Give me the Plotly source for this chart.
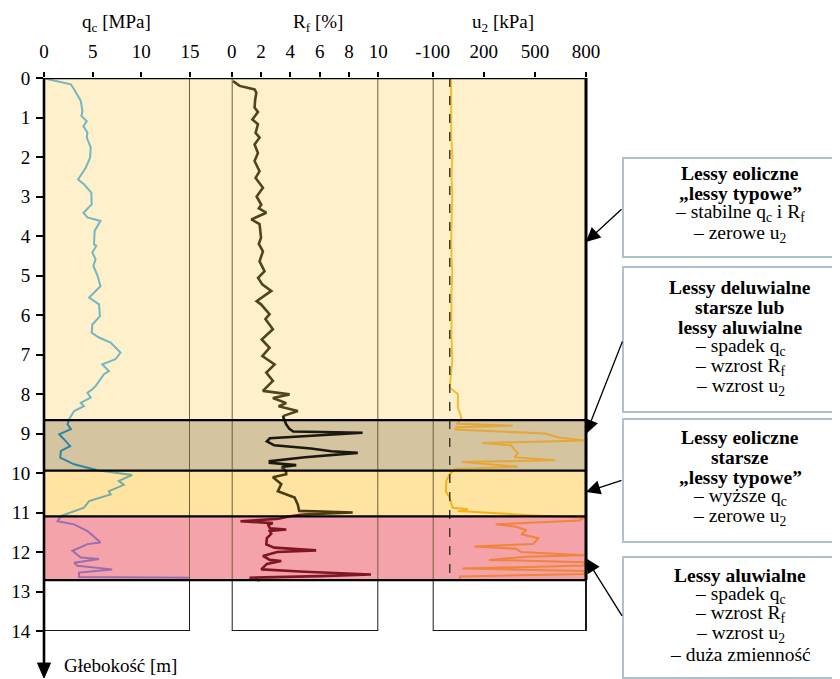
import plotly.graph_objects as go

# ---------------- data ----------------
layer_top = [0.0, 8.66, 9.94, 11.10]
layer_bottom = [8.66, 9.94, 11.10, 12.71]
layer_fill = ["#FEF0CA", "#D4C4A0", "#FEE3A1", "#F5A3AA"]

depth_qc = [0.02, 0.10, 0.16, 0.29, 0.58, 0.84, 0.96, 1.09, 1.22, 1.38, 1.51, 1.76, 2.02, 2.27, 2.57,
            2.69, 2.90, 3.20, 3.28, 3.41, 3.53, 3.62, 3.87, 4.21, 4.25, 4.42, 4.59, 4.76, 5.00, 5.27,
            5.56, 5.73, 6.03, 6.24, 6.45, 6.57, 6.70, 6.95, 7.12, 7.25, 7.42, 7.50, 7.80, 7.88, 7.97,
            8.09, 8.22, 8.31, 8.43, 8.64, 8.77, 8.89, 9.02, 9.15, 9.32, 9.44, 9.61, 9.78, 9.93, 10.05,
            10.20, 10.30, 10.46, 10.54, 10.71, 10.88, 11.09, 11.22, 11.30, 11.47, 11.56, 11.76, 11.80,
            11.97, 12.14, 12.18, 12.27, 12.35, 12.44, 12.52, 12.63, 12.65]
qc = [0.2, 1.5, 2.76, 3.1, 3.78, 3.95, 3.84, 4.39, 4.05, 4.46, 4.4, 4.8, 4.73, 4.29, 3.5,
      4.1, 4.86, 4.9, 4.6, 4.05, 4.46, 5.8, 5.2, 5.14, 5.37, 4.97, 5.3, 5.07, 5.5, 5.8,
      4.63, 5.65, 5.75, 4.97, 4.9, 5.65, 6.84, 7.86, 7.35, 5.99, 6.67, 6.16, 5.3, 4.97, 4.46,
      4.8, 3.78, 4.1, 3.1, 2.58, 2.42, 2.76, 1.56, 2.07, 2.69, 1.73, 1.67, 3.1, 5.48, 9.05,
      7.69, 8.2, 6.67, 6.84, 4.63, 4.1, 1.73, 1.4, 3.1, 4.46, 4.9, 5.8, 4.46,
      2.92, 3.78, 5.65, 3.1, 3.44, 7.0, 3.6, 3.6, 15.0]

depth_rf = [0.08, 0.20, 0.29, 0.37, 0.55, 0.75, 0.86, 1.05, 1.17, 1.39, 1.51, 1.68, 1.90, 2.10, 2.36,
            2.53, 2.78, 3.00, 3.21, 3.30, 3.41, 3.58, 3.70, 4.04, 4.20, 4.39, 4.64, 4.89, 5.06, 5.23,
            5.39, 5.65, 5.73, 5.98, 6.10, 6.36, 6.50, 6.62, 6.83, 7.04, 7.25, 7.46, 7.67, 7.92, 8.01,
            8.10, 8.23, 8.31, 8.43, 8.56, 8.77, 8.89, 8.95, 8.98, 9.05, 9.12, 9.20, 9.30, 9.38, 9.45,
            9.49, 9.54, 9.60, 9.70, 9.74, 9.80, 9.85, 9.95, 10.03, 10.11, 10.28, 10.46, 10.62, 10.80,
            10.96, 11.00, 11.05, 11.10, 11.16, 11.22, 11.27, 11.32, 11.40, 11.43, 11.47, 11.54, 11.65,
            11.81, 11.89, 11.96, 12.00, 12.10, 12.20, 12.23, 12.30, 12.44, 12.50, 12.57, 12.61, 12.65,
            12.72]
rf = [0.09, 0.54, 1.56, 1.68, 1.6, 1.56, 1.79, 1.41, 1.79, 1.63, 1.9, 1.56, 1.79, 1.56, 1.9,
      1.63, 2.13, 1.7, 2.02, 1.85, 2.36, 1.34, 1.9, 2.0, 1.85, 2.13, 1.9, 2.24, 1.8, 2.1,
      2.7, 1.7, 2.0, 2.58, 2.3, 2.81, 2.4, 2.05, 2.58, 2.09, 2.93, 2.36, 2.81, 2.13, 3.95,
      2.81, 3.72, 3.2, 4.51, 3.49, 3.72, 3.95, 4.2, 8.93, 5.5, 2.6, 2.4, 2.9, 5.4, 6.8,
      8.6, 7.0, 5.0, 2.6, 2.6, 4.4, 3.4, 3.7, 3.72, 2.81, 3.38, 3.15, 4.29, 4.51,
      4.6, 8.25, 4.85, 3.9, 3.2, 0.6, 2.8, 2.5, 2.6, 3.72, 2.6, 2.7, 2.4,
      2.36, 2.9, 5.76, 3.1, 2.13, 2.6, 3.38, 2.4, 2.02, 5.0, 9.5, 6.0, 1.22,
      1.9]

depth_u2 = [0.0, 0.5, 1.0, 1.5, 1.99, 2.5, 2.92, 3.5, 4.0, 4.5, 4.94, 5.5, 6.0, 6.5, 7.14,
            7.5, 7.84, 8.00, 8.34, 8.60, 8.66, 8.75, 8.80, 8.84, 8.90, 9.00, 9.10, 9.18, 9.24, 9.30,
            9.40, 9.50, 9.60, 9.68, 9.72, 9.84, 9.90, 10.03, 10.20, 10.46, 10.63, 10.88, 10.92, 10.96,
            11.09, 11.13, 11.20, 11.30, 11.36, 11.45, 11.55, 11.65, 11.80, 11.86, 11.92, 12.00, 12.08,
            12.12, 12.20, 12.26, 12.34, 12.42, 12.48, 12.56, 12.62, 12.70]
u2 = [8, 9, 10, 9, 15, 10, 15, 10, 9, 10, 15, 10, 9, 10, 15,
      9, 0, 48, 48, 68, 65, 40, 370, 40, 30, 560, 640, 790, 190, 360,
      380, 400, 380, 620, 70, 400, 30, 0, -20, -23, 0, 17, 106, 48,
      545, 790, 760, 270, 390, 450, 420, 520, 490, 145, 390, 420, 790,
      450, 230, 790, 790, 75, 790, 790, 60, 60]

qc_colors = ["#74B6C3", "#2F86A2", "#72AF9F", "#9B6CB0"]
rf_colors = ["#4E4421", "#1B1811", "#4A3B12", "#7F1623"]
u2_colors = ["#F5BD2C", "#E6A73A", "#F3B11C", "#EF853A"]

qc_ticks = [0, 5, 10, 15]
rf_ticks = [0, 2, 4, 6, 8, 10]
u2_ticks = [-100, 200, 500, 800]
u2_tick_labels = ["-100", "200", "500", "800"]
depth_ticks = list(range(0, 15))
u_hydro = 0

notes = [
    [("Lessy eoliczne", True), ("„lessy typowe”", True), ("– stabilne q<sub>c</sub> i R<sub>f</sub>", False),
     ("– zerowe u<sub>2</sub>", False)],
    [("Lessy deluwialne", True), ("starsze lub", True), ("lessy aluwialne", True),
     ("– spadek q<sub>c</sub>", False), ("– wzrost R<sub>f</sub>", False), ("– wzrost u<sub>2</sub>", False)],
    [("Lessy eoliczne", True), ("starsze", True), ("„lessy typowe”", True),
     ("– wyższe q<sub>c</sub>", False), ("– zerowe u<sub>2</sub>", False)],
    [("Lessy aluwialne", True), ("– spadek q<sub>c</sub>", False), ("– wzrost R<sub>f</sub>", False),
     ("– wzrost u<sub>2</sub>", False), ("– duża zmienność", False)],
]
note_arrow_depth = [4.15, 9.01, 10.48, 12.16]

# ---------------- layout helpers ----------------
# page body has an 8px margin: the figure is shifted by OFF, so reference
# pixel coordinates are converted accordingly
FONT = "Liberation Serif, Times New Roman, serif"
OFF = 8
W, H = 840 - OFF, 679 - OFF
PW, PH = 542, 553
L, T = 44 - OFF, 78 - OFF
R, B = W - L - PW, H - T - PH


def px(x):
    return (x - OFF - L) / PW


def py(y):
    return (H - B - (y - OFF)) / PH


fig = go.Figure()


def add_series(depths, vals, colors, axis, width):
    n = len(layer_top)
    for k in range(n):
        top = layer_top[k]
        bot = layer_bottom[k] if k < n - 1 else 1e9
        idx = [i for i, d in enumerate(depths) if top <= d < bot]
        if not idx:
            continue
        start = max(idx[0] - 1, 0)
        end = idx[-1] + 1
        fig.add_trace(go.Scatter(x=vals[start:end], y=depths[start:end], mode="lines",
                                 line=dict(color=colors[k], width=width),
                                 xaxis=axis, yaxis="y", showlegend=False, hoverinfo="skip"))


add_series(depth_qc, qc, qc_colors, "x", 2)
add_series(depth_rf, rf, rf_colors, "x2", 2.6)
add_series(depth_u2, u2, u2_colors, "x3", 2)

shapes = []
# layer bands
for t, b, c in zip(layer_top, layer_bottom, layer_fill):
    shapes.append(dict(type="rect", xref="paper", yref="y", x0=0, x1=1, y0=t, y1=b,
                       fillcolor=c, line=dict(width=0), layer="below"))
bottom = layer_bottom[-1]
# panel vertical lines
for xr, xv in [("x", 15), ("x2", 0), ("x2", 10), ("x3", -100)]:
    shapes.append(dict(type="line", xref=xr, yref="y", x0=xv, x1=xv, y0=0, y1=bottom,
                       line=dict(color="#6E5F38", width=2), layer="above"))
    shapes.append(dict(type="line", xref=xr, yref="y", x0=xv, x1=xv, y0=bottom, y1=14,
                       line=dict(color="#1A1A1A", width=2), layer="above"))
# hydrostatic dashed line
shapes.append(dict(type="line", xref="x3", yref="y", x0=u_hydro, x1=u_hydro, y0=0, y1=bottom,
                   line=dict(color="#3A3A2E", width=1.5, dash="dash"), layer="above"))
# layer borders
for b in layer_top[1:] + [bottom]:
    shapes.append(dict(type="line", xref="paper", yref="y", x0=0, x1=1, y0=b, y1=b,
                       line=dict(color="black", width=2.2), layer="above"))
shapes.append(dict(type="line", xref="paper", yref="y", x0=0, x1=1, y0=0, y1=0,
                   line=dict(color="black", width=2.6), layer="above"))
shapes.append(dict(type="line", xref="paper", yref="y", x0=1, x1=1, y0=0, y1=bottom,
                   line=dict(color="black", width=3), layer="above"))
shapes.append(dict(type="line", xref="paper", yref="y", x0=1, x1=1, y0=bottom, y1=14,
                   line=dict(color="#1A1A1A", width=2), layer="above"))
# panel bottoms
for xr, a, b in [("x", 0, 15), ("x2", 0, 10), ("x3", -100, 800)]:
    shapes.append(dict(type="line", xref=xr, yref="y", x0=a, x1=b, y0=14, y1=14,
                       line=dict(color="#1A1A1A", width=2), layer="above"))
# depth axis with arrow
shapes.append(dict(type="line", xref="paper", yref="paper", x0=0, x1=0, y0=1, y1=py(666),
                   line=dict(color="black", width=2.6), layer="above"))
shapes.append(dict(type="path", xref="paper", yref="paper",
                   path=f"M {px(37.5)},{py(663)} L {px(50.5)},{py(663)} L {px(44)},{py(678)} Z",
                   fillcolor="black", line=dict(color="black", width=1), layer="above"))

# note boxes
box_y = [(158, 257), (267, 412), (419, 542), (557, 678)]
for y0, y1 in box_y:
    shapes.append(dict(type="rect", xref="paper", yref="paper", x0=px(623), x1=px(838),
                       y0=py(y1), y1=py(y0), line=dict(color="#AFC2CB", width=2),
                       fillcolor="white", layer="above"))

annotations = []
# axis titles
for txt, cx in [("q<sub>c</sub> [MPa]", 116), ("R<sub>f</sub> [%]", 318), ("u<sub>2</sub> [kPa]", 503)]:
    annotations.append(dict(text=txt, xref="paper", yref="paper", x=px(cx), y=py(23),
                            xanchor="center", yanchor="middle", showarrow=False,
                            font=dict(family=FONT, size=19, color="black")))
annotations.append(dict(text="Głebokość [m]", xref="paper", yref="paper", x=px(62), y=py(665),
                        xanchor="left", yanchor="middle", showarrow=False,
                        font=dict(family=FONT, size=19, color="black")))
# note texts
line_y = [[173, 193, 213, 234], [287, 307, 327, 347, 367, 387],
          [437, 457, 477, 497, 517], [575, 595, 614, 634, 654]]
for lines, ys in zip(notes, line_y):
    for (txt, bold), yy in zip(lines, ys):
        annotations.append(dict(text=f"<b>{txt}</b>" if bold else txt, xref="paper", yref="paper",
                                x=px(740), y=py(yy), xanchor="center", yanchor="middle",
                                showarrow=False, font=dict(family=FONT, size=19.5, color="black")))
# arrows
tails = [208, 340, 480, 617]
tip_px = [242, 434, 492, 558]
for d, ty, tp in zip(note_arrow_depth, tails, tip_px):
    annotations.append(dict(text="", xref="paper", yref="y", x=1, y=d, ax=37, ay=ty - tp,
                            showarrow=True, arrowhead=2, arrowsize=2.2, arrowwidth=1.3,
                            arrowcolor="black", standoff=0))

axis_common = dict(side="top", anchor="y", showgrid=False, zeroline=False, showline=False,
                   automargin=False,
                   ticks="outside", ticklen=5, tickwidth=1.6, tickcolor="black", ticklabelstandoff=6,
                   tickfont=dict(family=FONT, size=19, color="black"), fixedrange=True)

fig.update_layout(
    width=W, height=H,
    margin=dict(l=L, r=R, t=T, b=B, autoexpand=False),
    paper_bgcolor="white", plot_bgcolor="white",
    font=dict(family=FONT, size=19, color="black"),
    showlegend=False,
    xaxis=dict(domain=[0, px(190)], range=[0, 15], tickvals=qc_ticks, **axis_common),
    xaxis2=dict(domain=[px(231.7), px(378.3)], range=[0, 10], tickvals=rf_ticks, **axis_common),
    xaxis3=dict(domain=[px(432.7), 1], range=[-100, 800], tickvals=u2_ticks,
                ticktext=u2_tick_labels, **axis_common),
    yaxis=dict(range=[14, 0], tickvals=depth_ticks, showgrid=False, zeroline=False, showline=False,
               automargin=False,
               ticks="outside", ticklen=7, tickwidth=2, tickcolor="black", ticklabelstandoff=2,
               tickfont=dict(family=FONT, size=19, color="black"), fixedrange=True),
    shapes=shapes,
    annotations=annotations,
)

fig.write_html("out.html")
